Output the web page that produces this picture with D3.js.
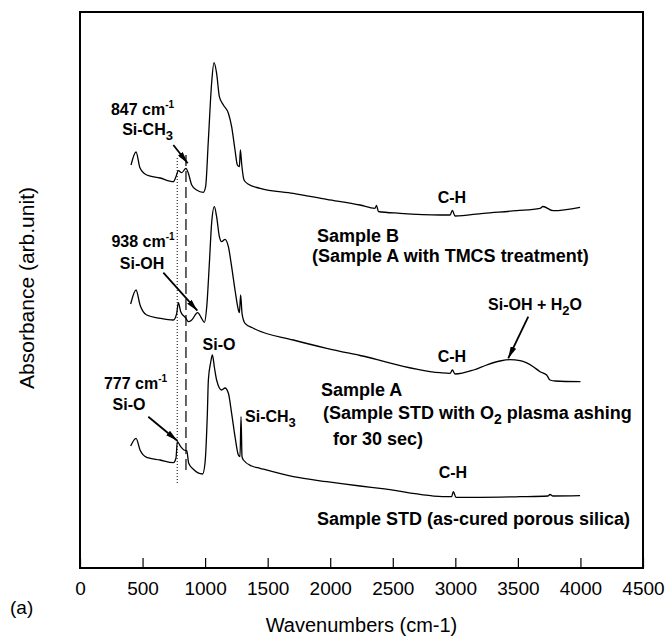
<!DOCTYPE html>
<html><head><meta charset="utf-8">
<script src="https://cdn.jsdelivr.net/npm/d3@7"></script>
<style>
body{margin:0;background:#fff}
text{font-family:"Liberation Sans",Arial,Helvetica,sans-serif;fill:#000}
</style>
</head><body>
<svg id="c" width="668" height="640"></svg>
<script>
// ---------- data (wavenumber cm-1, absorbance arb. units incl. vertical offset) ----------
const sampleB = [[408,403],[448,416],[480,400],[533,393],[640,390],[746,386.3],[767,391.3],[786,397.3],[813,395.3],[847,399.7],[866,394.7],[893,383],[932,378],[986,375.7],[1004,381.3],[1026,428],[1052,484.7],[1071,505.3],[1092,494.7],[1114,471.3],[1146,463],[1186,454.7],[1212,441.3],[1239,418],[1258,403],[1274,401.3],[1282,418],[1293,403],[1311,388],[1346,383.7],[1439,379.7],[1705,374.7],[1972,368.7],[2238,363],[2358,359.7],[2370,362.5],[2385,356.5],[2558,354.7],[2878,353],[2958,353],[2976,357.5],[2998,352],[3224,354.7],[3490,357.3],[3677,359.7],[3700,361.5],[3782,357.3],[3997,360.7]];
const sampleA = [[405,264],[448,278],[480,263],[533,253],[640,249.7],[746,248],[773,254.7],[786,265.3],[805,256.3],[847,249.7],[866,246.3],[893,248],[940,255.3],[972,249.7],[994,245.7],[1013,261.3],[1034,304.7],[1052,344.7],[1074,361.3],[1092,351.3],[1114,331.3],[1132,326.3],[1159,328.7],[1186,321.3],[1212,301.3],[1239,278],[1266,258],[1274,255.3],[1284,273],[1295,254.7],[1319,244.7],[1386,239.7],[1705,228],[1972,219.7],[2238,212.5],[2878,195.3],[2958,194.7],[2976,198],[2998,194],[3145,198],[3250,203],[3357,207],[3437,208.3],[3517,207.3],[3623,201.3],[3677,196.3],[3730,193],[3757,188],[3800,187],[4000,186.3]];
const sampleSTD = [[405,122],[448,129.7],[480,118],[533,110.7],[640,108],[746,105.3],[767,109.7],[778,126.3],[805,121.3],[831,118],[853,117.3],[869,104.7],[906,98.7],[980,94],[999,104.7],[1018,154.7],[1026,188],[1045,206],[1058,213],[1075,200],[1092,188],[1132,178],[1159,180],[1186,174.7],[1212,154.7],[1239,131.3],[1266,113],[1279,111.3],[1287,151.3],[1295,111.3],[1306,108],[1373,102],[1439,99.7],[1705,91.3],[1972,86.3],[2238,82],[2398,79.7],[2930,71.3],[2970,71.3],[2984,76.3],[3005,70.7],[3197,70.7],[3517,71.3],[3740,72],[3757,73.5],[3780,72],[3997,72.3]];
const xTicks = [0,500,1000,1500,2000,2500,3000,3500,4000,4500];
const xDomain = [0,4500];
const yDomain = [0,556];
const markerLines = [{wn:777, from:85, to:411, kind:"dotted"},{wn:847, from:98, to:416, kind:"dashed"}];
// annotation labels: [wavenumber, absorbance] anchors, text parts
const labels = [
  {x:500, y:453, anchor:"middle", size:16, parts:[["847 cm"],["-1","sup"]]},
  {x:540, y:433, anchor:"middle", size:16, parts:[["Si-CH"],["3","sub"]]},
  {x:504, y:321, anchor:"middle", size:16, parts:[["938 cm"],["-1","sup"]]},
  {x:496, y:299, anchor:"middle", size:16, parts:[["Si-OH"]]},
  {x:1111, y:218, anchor:"middle", size:16, parts:[["Si-O"]]},
  {x:444, y:179, anchor:"middle", size:16, parts:[["777 cm"],["-1","sup"]]},
  {x:392, y:158, anchor:"middle", size:16, parts:[["Si-O"]]},
  {x:1319, y:146, anchor:"start", size:16, parts:[["Si-CH"],["3","sub"]]},
  {x:2973, y:365, anchor:"middle", size:16, parts:[["C-H"]]},
  {x:2973, y:206, anchor:"middle", size:16, parts:[["C-H"]]},
  {x:2981, y:90, anchor:"middle", size:16, parts:[["C-H"]]},
  {x:3637, y:258, anchor:"middle", size:16, parts:[["Si-OH + H"],["2","sub"],["O"]]},
  {x:1894, y:326, anchor:"start", size:18, parts:[["Sample B"]]},
  {x:1854, y:306, anchor:"start", size:18, parts:[["(Sample A with TMCS treatment)"]]},
  {x:1926, y:172, anchor:"start", size:18, parts:[["Sample A"]]},
  {x:1942, y:149, anchor:"start", size:18, parts:[["(Sample STD with O"],["2","sub"],[" plasma ashing"]]},
  {x:2022, y:123, anchor:"start", size:18, parts:[["for 30 sec)"]]},
  {x:1894, y:43, anchor:"start", size:18, parts:[["Sample STD (as-cured porous silica)"]]}
];
const arrows = [
  [746,423,861,404.7],
  [666,295.3,938,257.3],
  [546,151.3,778,127.3],
  [3583,251.3,3423,209.7]
];

// ---------- layout ----------
const W=668,H=640, L=80, T=12, R=643, B=568;
const svg = d3.select("#c");
const x = d3.scaleLinear().domain(xDomain).range([L,R]);
const y = d3.scaleLinear().domain(yDomain).range([B,T]);

svg.append("defs").append("marker")
  .attr("id","ah").attr("viewBox","0 0 12 6").attr("refX",12).attr("refY",3)
  .attr("markerWidth",12).attr("markerHeight",6).attr("markerUnits","userSpaceOnUse")
  .attr("orient","auto")
  .append("path").attr("d","M0,0 L12,3 L0,6 Z").attr("fill","#000");

// x axis with inward ticks
const ax = svg.append("g").attr("transform",`translate(0,${B})`)
  .call(d3.axisBottom(x).tickValues(xTicks).tickSizeInner(-10).tickSizeOuter(0).tickPadding(14).tickFormat(d3.format("d")));
ax.select(".domain").remove();
ax.selectAll(".tick line").attr("stroke","#000").attr("stroke-width",1.2);
ax.selectAll(".tick text").attr("font-size",19).attr("font-family",'"Liberation Sans",Arial,sans-serif').attr("fill","#000");

// frame
svg.append("rect").attr("x",L).attr("y",T).attr("width",R-L).attr("height",B-T)
  .attr("fill","none").attr("stroke","#000").attr("stroke-width",2);

// vertical reference lines
markerLines.forEach(m=>{
  svg.append("line").attr("x1",x(m.wn)).attr("x2",x(m.wn)).attr("y1",y(m.from)).attr("y2",y(m.to))
    .attr("stroke","#000").attr("stroke-width",m.kind==="dotted"?1:1.2)
    .attr("stroke-dasharray",m.kind==="dotted"?"1,2":"11,5");
});

// spectra
const line = d3.line().x(d=>x(d[0])).y(d=>y(d[1])).curve(d3.curveMonotoneX);
[sampleB,sampleA,sampleSTD].forEach(s=>{
  svg.append("path").datum(s).attr("d",line).attr("fill","none").attr("stroke","#000").attr("stroke-width",1.3);
});

// arrows
arrows.forEach(a=>{
  svg.append("line").attr("x1",x(a[0])).attr("y1",y(a[1])).attr("x2",x(a[2])).attr("y2",y(a[3]))
    .attr("stroke","#000").attr("stroke-width",1.8).attr("marker-end","url(#ah)");
});

// labels
labels.forEach(l=>{
  const t = svg.append("text").attr("x",x(l.x)).attr("y",y(l.y)).attr("text-anchor",l.anchor)
    .attr("font-size",l.size).attr("font-weight","bold");
  let shift=0;
  l.parts.forEach(p=>{
    const sp = t.append("tspan").text(p[0]);
    let target=0, fs=l.size;
    if(p[1]==="sup"){target=-Math.round(l.size*0.45); fs=Math.round(l.size*0.65);}
    if(p[1]==="sub"){target=Math.round(l.size*0.3); fs=Math.round(l.size*0.8);}
    sp.attr("font-size",fs);
    if(target!==shift){sp.attr("dy",target-shift); shift=target;}
  });
});

// axis titles
svg.append("text").attr("x",L+(R-L)/2-0).attr("y",632).attr("text-anchor","middle")
  .attr("font-size",20).text("Wavenumbers (cm-1)");
svg.append("text").attr("transform",`translate(34,288) rotate(-90)`).attr("text-anchor","middle")
  .attr("font-size",21).text("Absorbance (arb.unit)");
svg.append("text").attr("x",10).attr("y",614).attr("font-size",19).text("(a)");
</script>
</body></html>
